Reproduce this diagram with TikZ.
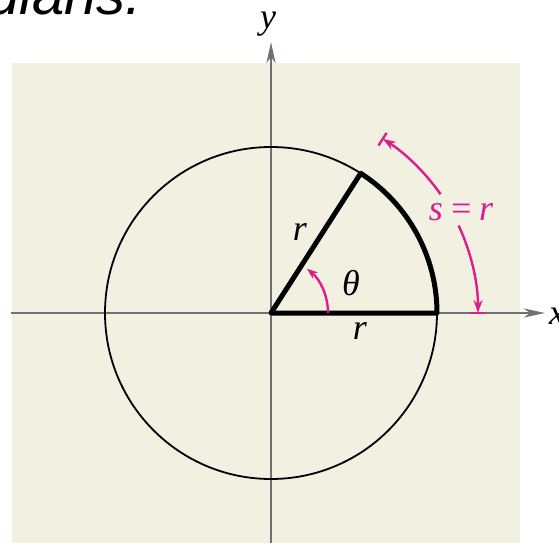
\documentclass[tikz,border=0pt]{standalone}
\usepackage{fontspec}
\setmainfont{Liberation Serif}
\newfontfamily\titulofont{Liberation Sans}
\usepackage{tikz}
\usepackage{xcolor}
\usetikzlibrary{arrows.meta}
\definecolor{fondo}{RGB}{242,240,225}
\definecolor{colrosa}{RGB}{222,28,140}
\definecolor{ejegris}{RGB}{112,112,116}

\begin{document}
\begin{tikzpicture}[x=1pt, y=1pt,
			 eje/.style={ejegris, line width=2.6pt, -{Stealth[length=21pt, width=9pt, inset=6pt]}},
			 letra/.style={font=\fontsize{36}{38}\selectfont\itshape, inner sep=0pt},
			 rosa/.style={colrosa, line width=2.4pt},
			 flecharosa/.style={rosa, -{Stealth[length=13pt, width=9pt]}}
  		]
	\useasboundingbox (-271,-230) rectangle (288,313);

	%Fondo y texto de arriba
		\fill[fondo] (-259,-230) rectangle (249,250);
		\node[font=\titulofont\fontsize{58}{60}\selectfont\itshape, anchor=base east, inner sep=0pt] (titulo) at (-129,298) {dians.};

	%Ejes
		\coordinate (O) at (0,0);
		\coordinate (xizq) at (-260,0);
		\coordinate (xder) at (274,0);
		\coordinate (yaba) at (0,-230);
		\coordinate (yarr) at (0,271);
		\draw[eje] (xizq) -- (xder);
		\draw[eje] (yaba) -- (yarr);
		\node[letra, anchor=west] (ejex) at (278,-3) {x};
		\node[letra] (ejey) at (-3,289) {y};

	%Circulo y sector
		\coordinate (A) at (0:166);
		\coordinate (B) at (57.3:166);
		\draw[line width=1.8pt] (O) circle[radius=166];
		\draw[line width=5pt, line join=round] (O) -- (A) arc[start angle=0, end angle=57.3, radius=166] -- cycle;
		\node[letra] (r1) at (29,81) {r};
		\node[letra] (r2) at (89,-18) {r};

	%Angulo theta
		\coordinate (t0) at (0:57);
		\draw[flecharosa, -{Stealth[length=11pt, width=8pt]}] (t0) arc[start angle=0, end angle=51, radius=57];
		\node[letra] (theta) at (80,30) {θ};

	%Arco s = r
		\coordinate (s1) at (35:207);
		\coordinate (s2) at (25:207);
		\coordinate (m1) at (57.3:199);
		\coordinate (m2) at (57.3:214);
		\coordinate (m3) at (199,0);
		\coordinate (m4) at (214,0);
		\draw[flecharosa] (s1) arc[start angle=35, end angle=57.3, radius=207];
		\draw[flecharosa] (s2) arc[start angle=25, end angle=0, radius=207];
		\draw[rosa] (m1) -- (m2);
		\draw[rosa] (m3) -- (m4);
		\node[letra, colrosa] (sr) at (190,101) {s\,=\,r};
\end{tikzpicture}
\end{document}
